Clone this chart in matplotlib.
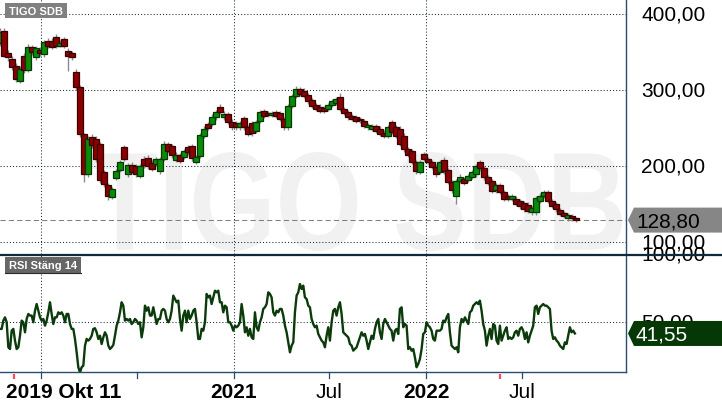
import numpy as np
import pandas as pd
import matplotlib
matplotlib.use("Agg")
import matplotlib.pyplot as plt
import matplotlib.dates as mdates
import matplotlib.transforms as mtransforms
from matplotlib.patches import Polygon, Rectangle, PathPatch
from matplotlib.textpath import TextPath
from matplotlib.font_manager import FontProperties

plt.rcParams['font.family'] = ['Liberation Sans', 'DejaVu Sans']

# ---------------- data ----------------
title = "TIGO SDB"
rsi_title = "RSI Stäng 14"
last_price = 128.80
last_rsi = 41.55

c_open = [362, 378, 348, 341, 332, 312, 345, 326, 356, 343,
          352, 347, 364, 364, 370, 358, 367, 351, 348, 324,
          304, 242, 190, 238, 236, 229, 192, 175, 159, 184,
          195, 225, 189, 201, 200, 187, 209, 211, 204, 203,
          193, 209, 229, 226, 208, 214, 212, 225, 226, 205,
          213, 240, 255, 255, 264, 278, 264, 268, 258, 256,
          251, 263, 251, 256, 246, 259, 272, 270, 267, 271,
          270, 262, 251, 279, 292, 301, 299, 293, 287, 280,
          278, 276, 275, 280, 283, 291, 275, 271, 266, 264,
          262, 259, 251, 249, 252, 249, 244, 240, 258, 251,
          249, 240, 222, 220, 205, 192, 216, 209, 205, 199,
          192, 208, 195, 179, 160, 180, 183, 182, 186, 189,
          205, 197, 185, 180, 168, 175, 166, 160, 157, 157,
          154, 151, 149, 139, 139, 154, 161, 166, 154, 150,
          142, 138, 131, 134, 131]
c_close = [376, 345, 343, 330, 314, 328, 326, 357, 350, 355,
           348, 363, 358, 357, 358, 362, 358, 345, 343, 304,
           242, 190, 236, 228, 209, 182, 176, 160, 170, 193,
           205, 209, 201, 192, 190, 200, 201, 200, 196, 209,
           209, 229, 220, 214, 215, 207, 220, 218, 210, 212,
           241, 249, 250, 265, 271, 271, 268, 258, 251, 251,
           256, 251, 242, 243, 258, 271, 266, 267, 270, 266,
           262, 251, 279, 292, 301, 295, 292, 285, 279, 275,
           273, 273, 280, 285, 288, 275, 270, 264, 262, 259,
           260, 253, 254, 252, 246, 242, 240, 251, 245, 240,
           229, 222, 215, 205, 193, 205, 209, 205, 199, 189,
           205, 193, 179, 168, 180, 186, 178, 187, 192, 200,
           197, 185, 178, 167, 175, 166, 157, 157, 160, 150,
           147, 143, 141, 145, 158, 161, 166, 154, 148, 143,
           137, 134, 135, 131, 128.8]
c_high = [382, 382, 352, 345, 336, 332, 349, 360, 359, 358,
          356, 366, 368, 368, 374, 366, 370, 355, 351, 328,
          306, 244, 240, 242, 239, 232, 195, 178, 173, 196,
          208, 228, 204, 205, 203, 203, 213, 214, 208, 212,
          212, 233, 232, 229, 218, 217, 223, 228, 229, 215,
          244, 252, 258, 268, 274, 281, 272, 271, 262, 259,
          259, 266, 254, 259, 261, 274, 275, 273, 273, 274,
          273, 265, 282, 295, 305, 304, 302, 296, 290, 283,
          281, 279, 283, 288, 291, 296, 278, 274, 269, 267,
          265, 262, 257, 255, 255, 252, 247, 254, 261, 254,
          252, 243, 225, 223, 208, 208, 219, 212, 208, 202,
          208, 212, 198, 182, 183, 189, 186, 190, 195, 203,
          208, 200, 188, 183, 178, 178, 169, 163, 163, 160,
          157, 154, 152, 148, 161, 164, 169, 169, 157, 153,
          145, 141, 138, 137, 133]
c_low = [358, 343, 338, 326, 310, 309, 322, 324, 346, 340,
         345, 344, 355, 354, 355, 356, 355, 325, 340, 300,
         238, 179, 186, 224, 205, 178, 172, 155, 156, 181,
         192, 206, 186, 189, 186, 184, 197, 196, 193, 200,
         190, 206, 217, 211, 205, 204, 209, 215, 206, 202,
         210, 237, 247, 252, 261, 268, 261, 255, 248, 248,
         248, 248, 239, 240, 243, 256, 263, 264, 264, 263,
         259, 248, 248, 276, 289, 292, 289, 282, 276, 272,
         270, 270, 272, 277, 280, 272, 267, 261, 259, 256,
         257, 250, 248, 246, 243, 239, 237, 237, 242, 237,
         226, 219, 212, 202, 190, 189, 206, 202, 196, 186,
         189, 190, 176, 165, 150, 177, 175, 179, 183, 186,
         194, 182, 175, 164, 165, 163, 154, 154, 154, 147,
         144, 140, 138, 136, 136, 151, 158, 151, 145, 140,
         134, 131, 128, 128, 126]

rsi_2019_20 = [44.9, 44.9, 51.0, 53.4, 49.8, 31.4, 30.1, 43.6, 44.9, 36.3,
               30.1, 31.4, 39.9, 51.0, 49.8, 42.4, 52.2, 55.9, 54.7, 54.7,
               49.8, 58.3, 63.2, 58.3, 53.4, 51.0, 52.2, 47.3, 51.0, 57.1,
               64.5, 55.9, 48.5, 53.4, 53.4, 57.1, 55.9, 57.1, 54.7, 49.8,
               55.9, 55.9, 48.5, 44.9, 44.9, 37.5, 27.7, 16.7, 13.0, 16.7,
               17.9, 32.6, 37.5, 36.3, 37.5, 39.9, 44.9, 45.4, 42.4, 37.5,
               39.9, 33.8, 38.7, 42.4, 39.9, 32.6, 30.1, 31.4, 33.1, 39.9,
               47.3, 51.0, 57.1, 64.5, 62.0, 51.0, 52.2, 51.0, 52.2, 48.5,
               49.8, 52.2, 51.0, 48.5, 49.8, 38.7, 46.1, 62.0, 58.3, 60.8,
               54.7, 54.7, 60.8, 54.7, 48.5, 52.2, 52.2, 58.3, 59.6, 58.3,
               52.2, 49.8, 52.2, 58.3, 69.4, 66.9, 64.5, 65.7, 52.2, 43.6,
               54.7, 58.3, 49.8, 58.3, 52.2, 54.7, 58.3, 59.6, 49.8, 37.5]
rsi_2021 = [37.5, 44.9, 43.6, 49.8, 70.6, 68.1, 69.4, 63.2, 68.1, 73.0,
            71.8, 73.0, 64.5, 64.5, 57.1, 62.0, 60.8, 49.8, 49.8, 47.3,
            43.6, 47.3, 46.1, 47.3, 49.8, 63.2, 54.7, 42.4, 46.1, 39.9,
            44.9, 38.7, 37.5, 57.1, 46.1, 43.6, 49.8, 53.4, 59.6, 60.8,
            63.2, 71.8, 70.6, 68.1, 57.1, 54.7, 58.3, 57.1, 59.6, 59.6,
            54.7, 47.3, 42.4, 35.0, 27.7, 32.6, 35.0, 57.1, 69.4, 71.8,
            77.9, 74.3, 76.7, 68.1, 66.9, 62.0, 60.8, 52.2, 48.5, 46.1,
            47.3, 41.2, 38.7, 36.3, 35.0, 31.4, 39.9, 46.1, 36.3, 49.8,
            58.3, 59.6, 54.7, 60.8, 64.5, 55.9, 42.4, 41.2, 39.9, 38.7,
            33.8, 32.6, 28.9, 30.1, 31.4, 35.0, 38.7, 42.4, 39.9, 41.2,
            36.3, 30.1, 35.0, 39.9, 37.5, 44.9, 49.8, 52.2, 42.4, 37.5,
            48.5, 52.2, 49.8, 47.3, 44.9, 43.6, 36.3]
rsi_2022 = [43.6, 44.9, 41.2, 59.6, 60.8, 46.1, 48.5, 47.3, 30.1, 31.4,
            28.9, 30.1, 24.0, 16.7, 19.1, 22.8, 30.1, 41.2, 42.4, 49.8,
            47.3, 46.1, 43.6, 37.5, 36.3, 43.6, 43.6, 43.6, 44.9, 51.0,
            49.8, 53.4, 55.9, 42.4, 32.6, 31.4, 30.1, 31.4, 27.7, 46.1,
            52.2, 49.8, 53.4, 51.0, 48.5, 57.1, 58.3, 62.0, 63.2, 64.5,
            63.2, 65.7, 58.3, 48.5, 43.6, 32.6, 39.9, 44.9, 37.5, 48.5,
            47.3, 36.3, 33.8, 47.3, 36.3, 39.9, 43.6, 46.1, 37.5, 38.7,
            37.5, 38.7, 42.4, 43.6, 39.9, 44.9, 46.1, 43.6, 37.5, 42.4,
            35.0, 39.9, 43.6, 47.3, 60.8, 62.0, 55.9, 60.8, 62.0, 63.2,
            62.0, 62.0, 60.8, 59.6, 43.6, 37.5, 38.7, 36.3, 35.0, 32.6,
            31.4, 30.1, 35.0, 33.8, 39.9, 46.1, 42.4, 43.6, 41.55]

price_ticks = [100, 200, 300, 400]
price_tick_labels = ["100,00", "200,00", "300,00", "400,00"]
rsi_ticks = [50, 100]
rsi_tick_labels = ["50,00", "100,00"]
grid_dates = ["2020-01-01", "2021-01-01", "2022-01-01"]
tick_dates = ["2020-01-01", "2020-07-01", "2021-01-01", "2021-07-01", "2022-01-01", "2022-07-01"]
tick_labels = ["", "", "2021", "Jul", "2022", "Jul"]
tick_bold = [False, False, True, False, True, False]
start_label = "2019 Okt 11"
event_dates = ["2019-11-11", "2022-05-20"]

# ---------------- figure ----------------
W, H = 722, 410
fig = plt.figure(figsize=(W / 100, H / 100), dpi=100)
fig.patch.set_facecolor("white")

PW = 626          # plot width in px
Y_SEP = 255       # separator between panels
Y_BOT = 373       # bottom of RSI panel

ax1 = fig.add_axes([0, 1 - Y_SEP / H, PW / W, Y_SEP / H])
ax2 = fig.add_axes([0, 1 - Y_BOT / H, PW / W, (Y_BOT - Y_SEP) / H])

xmin = mdates.date2num(pd.Timestamp("2019-10-15"))
xmax = mdates.date2num(pd.Timestamp("2023-01-15"))
for ax in (ax1, ax2):
    ax.set_xlim(xmin, xmax)
    ax.set_xticks([])
    ax.set_yticks([])
    ax.set_facecolor("white")
    for s in ("top", "left"):
        ax.spines[s].set_visible(False)
    ax.spines["right"].set_color("#2b4b6f")
    ax.spines["right"].set_linewidth(1.0)
ax1.spines["bottom"].set_visible(False)
ax2.spines["bottom"].set_color("#2b4b6f")
ax2.spines["bottom"].set_linewidth(1.0)

ax1.set_ylim(84.2, 419.7)
ax2.set_ylim(13.2, 100)

grid_kw = dict(color="#1a2d45", lw=0.75, linestyle=(0, (1, 2)), zorder=1)
for v in price_ticks:
    ax1.axhline(v, **grid_kw)
for d in grid_dates:
    xd = mdates.date2num(pd.Timestamp(d))
    ax1.axvline(xd, **grid_kw)
    ax2.axvline(xd, **grid_kw)
ax2.axhline(50, **grid_kw)

# watermark, fitted into its box (pixels from top-left)
tp = TextPath((0, 0), title, size=100,
              prop=FontProperties(family="Liberation Sans", weight="bold"))
ext = tp.get_extents()
bx0, bx1 = 92 / PW, 622 / PW
by0, by1 = (Y_SEP - 252) / Y_SEP, (Y_SEP - 153) / Y_SEP
wm_tr = (mtransforms.Affine2D().translate(-ext.x0, -ext.y0)
         .scale((bx1 - bx0) / ext.width, (by1 - by0) / ext.height)
         .translate(bx0, by0) + ax1.transAxes)
ax1.add_patch(PathPatch(tp, transform=wm_tr, facecolor="#f1f1f1",
                        edgecolor="none", zorder=0.5))

# candles
dates = pd.date_range("2019-10-15", "2022-10-12", periods=len(c_open))
xd = mdates.date2num(dates)
o = np.array(c_open, float)
c = np.array(c_close, float)
hi = np.array(c_high, float)
lo = np.array(c_low, float)
up = c >= o
ax1.vlines(xd, lo, hi, color="#8a8a8a", lw=1.0, zorder=2)
bottom = np.minimum(o, c)
height = np.maximum(np.abs(c - o), 0.8)
body_col = np.where(up, "#0a8c0a", "#8b0000")
edge_col = np.where(up, "#003a00", "#3a0000")
ax1.bar(xd, height, bottom=bottom, width=12, color=list(body_col),
        edgecolor=list(edge_col), linewidth=0.9, zorder=3)

ax1.axhline(last_price, color="#808080", lw=0.75, dashes=(5, 3), zorder=2.5)

# RSI
rsi = rsi_2019_20 + rsi_2021 + rsi_2022
rdates = pd.date_range("2019-10-15", "2022-10-10", periods=len(rsi))
ax2.plot(mdates.date2num(rdates), rsi, color="#0b3a0b", lw=1.7, zorder=3,
         solid_joinstyle="round")

# right tick labels
for ax, ticks, labels in ((ax1, price_ticks, price_tick_labels),
                          (ax2, rsi_ticks, rsi_tick_labels)):
    tr = mtransforms.blended_transform_factory(ax.transAxes, ax.transData)
    for v, lab in zip(ticks, labels):
        ax.text(641 / PW, v, lab, transform=tr, ha="left", va="center",
                fontsize=15, color="black", clip_on=False)

# overlay in pixel coordinates
ov = fig.add_axes([0, 0, 1, 1], zorder=10)
ov.set_xlim(0, W)
ov.set_ylim(H, 0)
ov.axis("off")
ov.patch.set_alpha(0)

def px_x(d):
    v = mdates.date2num(pd.Timestamp(d))
    return (v - xmin) / (xmax - xmin) * PW

def px_y(ax, v):
    return H - ax.transData.transform((xmin, v))[1]

ov.plot([0, W], [Y_SEP + 0.5, Y_SEP + 0.5], color="#102a3c", lw=1.6,
        solid_capstyle="butt")

# x ticks and labels
for d, lab, b in zip(tick_dates, tick_labels, tick_bold):
    x = px_x(d)
    ov.plot([x, x], [Y_BOT, Y_BOT + 5.5], color="#2b4b6f", lw=0.9)
    if lab:
        ov.text(x, 398.5, lab, ha="center", va="baseline", fontsize=15,
                fontweight="bold" if b else "normal", color="black")
ov.text(6, 398.5, start_label, ha="left", va="baseline", fontsize=15,
        fontweight="bold", color="black")
for d in event_dates:
    x = px_x(d)
    ov.plot([x, x], [Y_BOT + 2, Y_BOT + 7], color="#ff4d4d", lw=1.6,
            solid_capstyle="butt")

# panel title boxes
ov.add_patch(Rectangle((5, 4), 62, 15, facecolor="#808080", edgecolor="none"))
ov.text(36, 11.8, title, ha="center", va="center", fontsize=8,
        fontweight="bold", color="white")
ov.add_patch(Rectangle((5, 258), 76, 16, facecolor="#666666", edgecolor="none"))
ov.plot([5, 81], [273.5, 273.5], color="#2a2a2a", lw=0.8)
ov.text(43, 265.8, rsi_title, ha="center", va="center", fontsize=8,
        fontweight="bold", color="white")

# last value badges
def badge(cy, text, fc, tc):
    pts = [(628, cy), (634, cy - 12.5), (W, cy - 12.5), (W, cy + 12.5), (634, cy + 12.5)]
    ov.add_patch(Polygon(pts, closed=True, facecolor=fc, edgecolor="none"))
    ov.text(636, cy + 0.5, text, ha="left", va="center", fontsize=15, color=tc)

badge(px_y(ax1, last_price), f"{last_price:.2f}".replace(".", ","), "#868686", "black")
badge(px_y(ax2, last_rsi), f"{last_rsi:.2f}".replace(".", ","), "#063806", "white")

fig.savefig("out.png", dpi=100)
